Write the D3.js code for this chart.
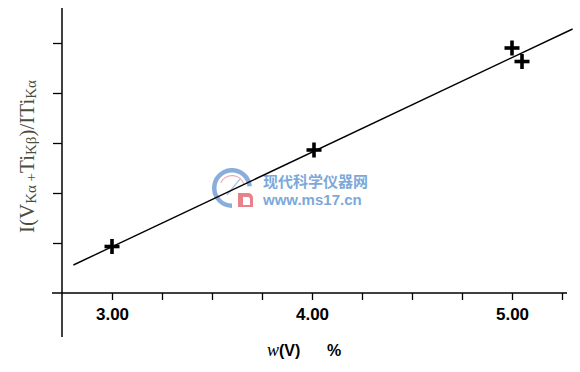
<!DOCTYPE html>
<html>
<head>
<meta charset="utf-8">
<script src="https://cdn.jsdelivr.net/npm/d3@7"></script>
<style>
  body { margin: 0; background: #fff; }
  svg { display: block; }
</style>
</head>
<body>
<div id="chart"></div>
<script>
// 量測點：w(V) % 與強度比
const wValues = [3.00, 4.01, 5.00, 5.05];
const ratioValues = [0.093, 0.286, 0.490, 0.463];
// 擬合直線的兩端
const fitX = [2.807, 5.303];
const fitY = [0.056, 0.528];
// 刻度
const xTicks = [3.00, 3.25, 3.50, 3.75, 4.00, 4.25, 4.50, 4.75, 5.00, 5.25];
const xLabelTicks = [3.00, 4.00, 5.00];
const yTicks = [0.1, 0.2, 0.3, 0.4, 0.5];

const W = 580, H = 372;

const svg = d3.select("#chart").append("svg")
    .attr("width", W)
    .attr("height", H);

const x = d3.scaleLinear().domain([3, 5]).range([112, 512]);
const y = d3.scaleLinear().domain([0, 0.5]).range([293, 43]);

// 浮水印
const wm = svg.append("g").attr("opacity", 0.9);
wm.append("path")
    .attr("transform", "translate(232,188)")
    .attr("d", d3.arc()({ innerRadius: 15.5, outerRadius: 20, startAngle: Math.PI * 1.0, endAngle: Math.PI * 2.47 }))
    .attr("fill", "#7ea6d8");
wm.append("path")
    .attr("transform", "translate(232,188)")
    .attr("d", d3.arc()({ innerRadius: 11.8, outerRadius: 13, startAngle: -Math.PI * 0.36, endAngle: Math.PI * 0.42 }))
    .attr("fill", "#ec9ea4");
wm.append("line")
    .attr("x1", 227).attr("y1", 195).attr("x2", 240).attr("y2", 179)
    .attr("stroke", "#9fbfe6").attr("stroke-width", 1.2);
wm.append("path")
    .attr("d", "M238,193 h10 a5,5 0 0 1 5,5 v9 h-15 z M243,197 v8 h7 v-6 a2,2 0 0 0 -2,-2 z")
    .attr("fill", "#e6747e")
    .attr("fill-rule", "evenodd");
wm.append("text")
    .attr("x", 263).attr("y", 187)
    .attr("font-family", "Noto Sans CJK SC")
    .attr("font-weight", "bold")
    .attr("font-size", 15)
    .attr("fill", "#6f9fd6")
    .text("现代科学仪器网");
wm.append("text")
    .attr("x", 263).attr("y", 205)
    .attr("font-family", "Liberation Sans, Arial, sans-serif")
    .attr("font-weight", "bold")
    .attr("font-size", 15)
    .attr("fill", "#6f9fd6")
    .text("www.ms17.cn");

// 坐標軸
svg.append("line")
    .attr("x1", 52).attr("x2", 567)
    .attr("y1", y(0)).attr("y2", y(0))
    .attr("stroke", "#000").attr("stroke-width", 1.5);
svg.append("line")
    .attr("x1", 62).attr("x2", 62)
    .attr("y1", 8).attr("y2", 337)
    .attr("stroke", "#000").attr("stroke-width", 1.5);

const xAxis = svg.append("g")
    .attr("transform", `translate(0,${y(0)})`)
    .call(d3.axisBottom(x).tickValues(xTicks).tickSize(7)
        .tickFormat(d => xLabelTicks.includes(d) ? d3.format(".2f")(d) : ""));
xAxis.select(".domain").remove();
xAxis.selectAll(".tick line").attr("stroke", "#000").attr("stroke-width", 1.3);
xAxis.selectAll(".tick text")
    .attr("y", 27).attr("dy", 0)
    .attr("font-family", "Liberation Sans, Arial, sans-serif")
    .attr("font-weight", "bold")
    .attr("font-size", 17)
    .attr("fill", "#000");

const yAxis = svg.append("g")
    .attr("transform", "translate(62,0)")
    .call(d3.axisLeft(y).tickValues(yTicks).tickSize(9).tickFormat(""));
yAxis.select(".domain").remove();
yAxis.selectAll(".tick line").attr("stroke", "#000").attr("stroke-width", 1.3);

// 擬合直線
svg.append("path")
    .datum(fitX.map((d, i) => [d, fitY[i]]))
    .attr("d", d3.line().x(d => x(d[0])).y(d => y(d[1])))
    .attr("fill", "none")
    .attr("stroke", "#000")
    .attr("stroke-width", 1.4);

// 資料點（十字）
const pts = svg.selectAll(".pt")
    .data(wValues.map((d, i) => [d, ratioValues[i]]))
    .enter().append("g")
    .attr("class", "pt")
    .attr("transform", d => `translate(${x(d[0])},${y(d[1])})`);
pts.append("line").attr("x1", -7.5).attr("x2", 7.5).attr("y1", 0).attr("y2", 0)
    .attr("stroke", "#000").attr("stroke-width", 3.6);
pts.append("line").attr("x1", 0).attr("x2", 0).attr("y1", -7.5).attr("y2", 7.5)
    .attr("stroke", "#000").attr("stroke-width", 3.6);

// X 軸標題
const xt = svg.append("text")
    .attr("x", 267).attr("y", 356)
    .attr("fill", "#000");
xt.append("tspan")
    .attr("font-family", "Liberation Serif, Times New Roman, serif")
    .attr("font-style", "italic")
    .attr("font-size", 18)
    .text("w");
xt.append("tspan")
    .attr("font-family", "Liberation Sans, Arial, sans-serif")
    .attr("font-weight", "bold")
    .attr("font-size", 16)
    .text("(V)");
xt.append("tspan")
    .attr("x", 327)
    .attr("font-family", "Liberation Sans, Arial, sans-serif")
    .attr("font-weight", "bold")
    .attr("font-size", 16)
    .text("%");

// Y 軸標題
const yt = svg.append("text")
    .attr("transform", "translate(34,233) rotate(-90)")
    .attr("font-family", "Liberation Serif, Times New Roman, serif")
    .attr("font-size", 21)
    .attr("fill", "#4d4d3d");
const parts = [
    ["I(V", false], ["Kα", true], [" +", true], ["Ti", false], ["Kβ", true],
    [")/ITi", false], ["Kα", true]
];
parts.forEach(([t, sub]) => {
    yt.append("tspan")
        .attr("font-size", sub ? 15 : 21)
        .attr("baseline-shift", sub ? "-2" : "0")
        .text(t);
});
</script>
</body>
</html>
